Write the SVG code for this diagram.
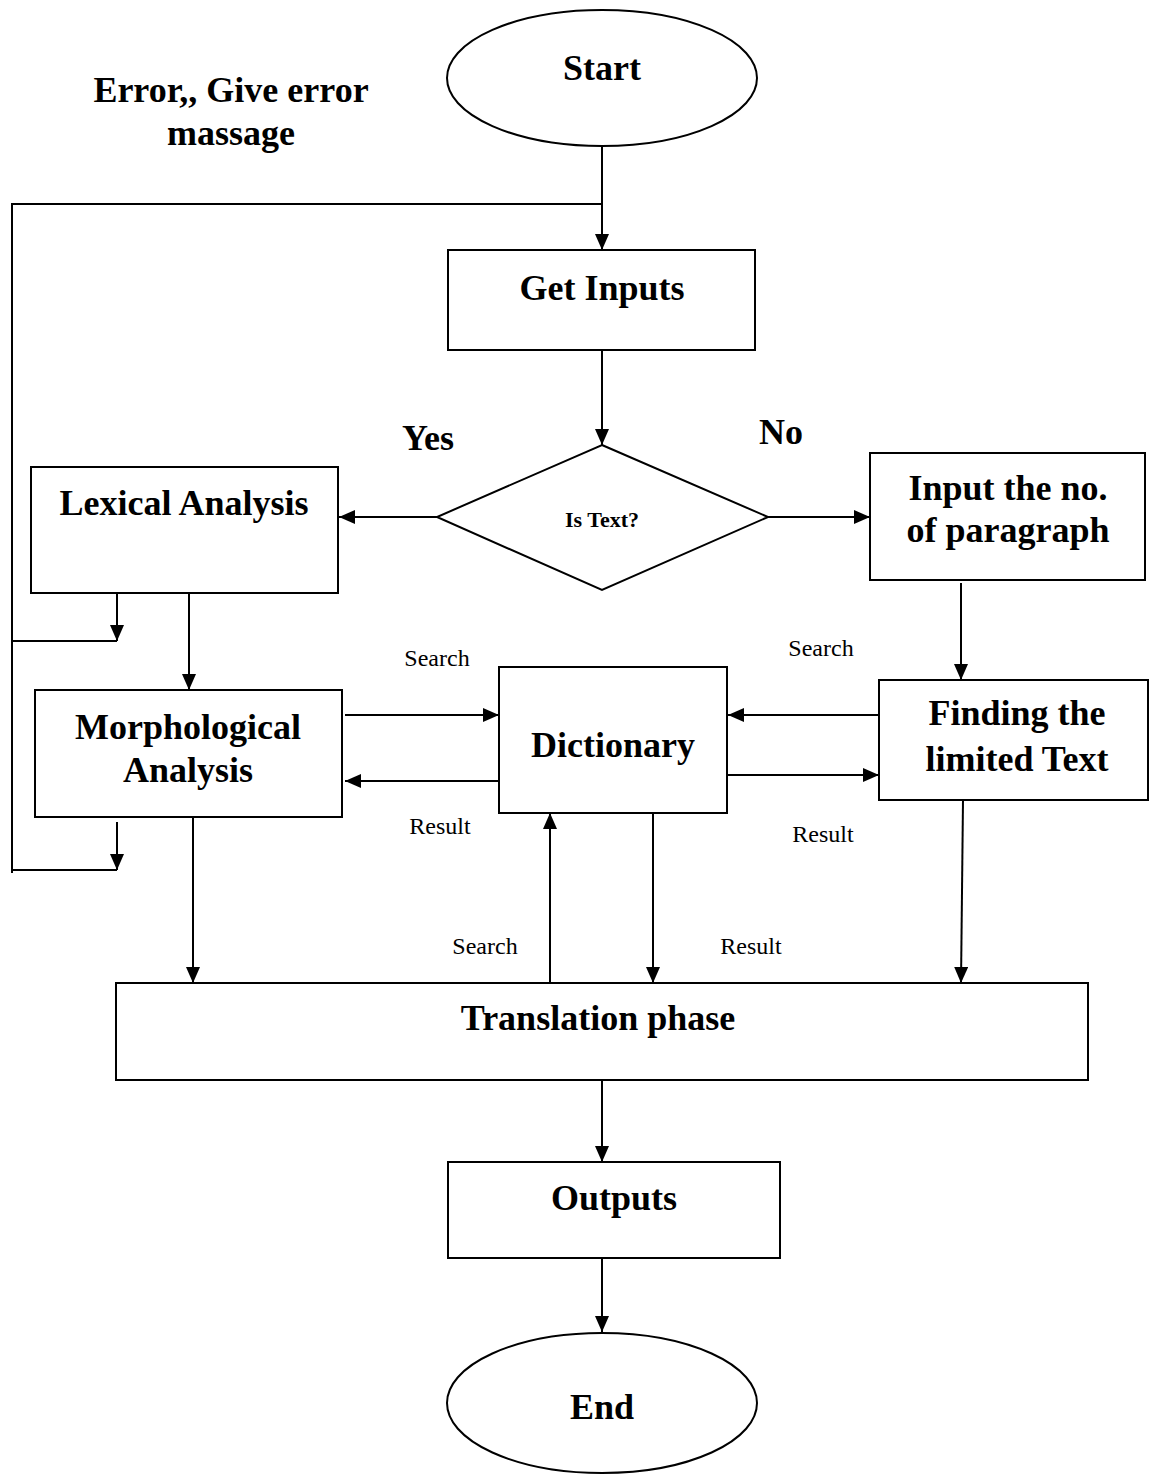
<svg xmlns="http://www.w3.org/2000/svg" width="1149" height="1476" viewBox="0 0 1149 1476">
<style>
.s{fill:#fff;stroke:#000;stroke-width:2}
.l{fill:none;stroke:#000;stroke-width:2}
.t{font-family:"Liberation Serif",serif;font-weight:bold;font-size:36px;text-anchor:middle;fill:#000}
.n{font-family:"Liberation Serif",serif;font-size:24px;text-anchor:middle;fill:#000}
</style>
<defs>
<marker id="a" viewBox="0 0 16 14" refX="16" refY="7" markerWidth="16" markerHeight="14" markerUnits="userSpaceOnUse" orient="auto">
<path d="M0,0 L16,7 L0,14 Z" fill="#000"/>
</marker>
</defs>
<rect width="1149" height="1476" fill="#fff"/>
<g id="connectors">
<line class="l" x1="602" y1="147" x2="602" y2="250" marker-end="url(#a)"/>
<polyline class="l" points="602,204 12,204 12,873"/>
<line class="l" x1="602" y1="350" x2="602" y2="445" marker-end="url(#a)"/>
<line class="l" x1="437" y1="517" x2="339" y2="517" marker-end="url(#a)"/>
<line class="l" x1="768" y1="517" x2="870" y2="517" marker-end="url(#a)"/>
<line class="l" x1="117" y1="593" x2="117" y2="641" marker-end="url(#a)"/>
<line class="l" x1="12" y1="641" x2="117" y2="641"/>
<line class="l" x1="189" y1="593" x2="189" y2="690" marker-end="url(#a)"/>
<line class="l" x1="117" y1="822" x2="117" y2="870" marker-end="url(#a)"/>
<line class="l" x1="12" y1="870" x2="117" y2="870"/>
<line class="l" x1="193" y1="813" x2="193" y2="983" marker-end="url(#a)"/>
<line class="l" x1="345" y1="715" x2="499" y2="715" marker-end="url(#a)"/>
<line class="l" x1="499" y1="781" x2="345" y2="781" marker-end="url(#a)"/>
<line class="l" x1="879" y1="715" x2="728" y2="715" marker-end="url(#a)"/>
<line class="l" x1="728" y1="775" x2="879" y2="775" marker-end="url(#a)"/>
<line class="l" x1="961" y1="583" x2="961" y2="680" marker-end="url(#a)"/>
<line class="l" x1="963" y1="800" x2="961" y2="983" marker-end="url(#a)"/>
<line class="l" x1="653" y1="813" x2="653" y2="983" marker-end="url(#a)"/>
<line class="l" x1="550" y1="983" x2="550" y2="813" marker-end="url(#a)"/>
<line class="l" x1="602" y1="1080" x2="602" y2="1162" marker-end="url(#a)"/>
<line class="l" x1="602" y1="1258" x2="602" y2="1332" marker-end="url(#a)"/>
</g>
<g id="start"><ellipse class="s" cx="602" cy="78" rx="155" ry="68"/><text class="t" x="602" y="80">Start</text></g>
<g id="error-label"><text class="t" x="231" y="102">Error,, Give error</text><text class="t" x="231" y="145">massage</text></g>
<g id="get-inputs"><rect class="s" x="448" y="250" width="307" height="100"/><text class="t" x="602" y="300">Get Inputs</text></g>
<g id="is-text"><polygon class="s" points="602,445 768,517 602,590 437,517"/><text class="t" style="font-size:22px" x="602" y="527">Is Text?</text></g>
<g id="yes-label"><text class="t" x="428" y="450">Yes</text></g>
<g id="no-label"><text class="t" x="781" y="444">No</text></g>
<g id="lexical"><rect class="s" x="31" y="467" width="307" height="126"/><text class="t" x="184" y="515">Lexical Analysis</text></g>
<g id="input-paragraph"><rect class="s" x="870" y="453" width="275" height="127"/><text class="t" x="1008" y="500">Input the no.</text><text class="t" x="1008" y="542">of paragraph</text></g>
<g id="morphological"><rect class="s" x="35" y="690" width="307" height="127"/><text class="t" x="188" y="739">Morphological</text><text class="t" x="188" y="782">Analysis</text></g>
<g id="dictionary"><rect class="s" x="499" y="667" width="228" height="146"/><text class="t" x="613" y="757">Dictionary</text></g>
<g id="finding"><rect class="s" x="879" y="680" width="269" height="120"/><text class="t" x="1017" y="725">Finding the</text><text class="t" x="1017" y="771">limited Text</text></g>
<g id="translation"><rect class="s" x="116" y="983" width="972" height="97"/><text class="t" x="598" y="1030">Translation phase</text></g>
<g id="outputs"><rect class="s" x="448" y="1162" width="332" height="96"/><text class="t" x="614" y="1210">Outputs</text></g>
<g id="end"><ellipse class="s" cx="602" cy="1403" rx="155" ry="70"/><text class="t" x="602" y="1419">End</text></g>
<g id="edge-labels">
<text class="n" x="437" y="666">Search</text>
<text class="n" x="440" y="834">Result</text>
<text class="n" x="821" y="656">Search</text>
<text class="n" x="823" y="842">Result</text>
<text class="n" x="485" y="954">Search</text>
<text class="n" x="751" y="954">Result</text>
</g>
</svg>
